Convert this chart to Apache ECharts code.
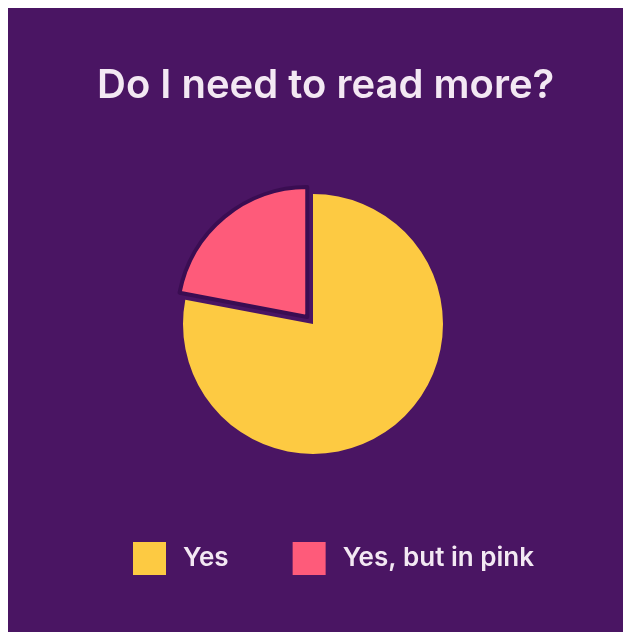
<!DOCTYPE html>
<html lang="en">
<head>
    <meta charset="UTF-8">
    <title>Do I need to read more?</title>
    <script src="https://cdn.jsdelivr.net/npm/echarts@6/dist/echarts.min.js"></script>
    <style>
        body { margin: 0; background: #ffffff; }
        #chart { position: absolute; left: 8px; top: 8px; width: 615px; height: 624px; }
    </style>
</head>
<body>
    <div id="chart"></div>
    <script>
        var categories = ['Yes', 'Yes, but in pink'];
        var values = [78, 22];
        var colors = ['#fdca42', '#fe5b7a'];

        var myChart = echarts.init(document.getElementById('chart'));
        var pieData = categories.map(function (name, i) {
            var item = { name: name, value: values[i], itemStyle: { color: colors[i] } };
            if (i === 1) {
                // exploded slice with dark outline
                item.selected = true;
                item.itemStyle.borderColor = '#3a0d52';
                item.itemStyle.borderWidth = 4;
            }
            return item;
        });

        var option = {
            backgroundColor: '#4a1563',
            animation: false,
            title: {
                text: 'Do I need to read more?',
                left: 89,
                top: 58,
                padding: 0,
                textStyle: {
                    color: '#f3e8f3',
                    fontFamily: 'Inter',
                    fontWeight: 600,
                    fontSize: 40
                }
            },
            legend: {
                left: 120,
                top: 529,
                icon: 'rect',
                itemWidth: 33,
                itemHeight: 33,
                itemGap: 64,
                selectedMode: false,
                itemStyle: { borderWidth: 0 },
                textStyle: {
                    color: '#f3e8f3',
                    fontFamily: 'Inter',
                    fontWeight: 600,
                    fontSize: 26,
                    padding: [0, 0, 0, 12]
                },
                data: categories
            },
            series: [{
                type: 'pie',
                center: [305, 316],
                radius: [0, 130],
                startAngle: 90,
                selectedMode: 'single',
                selectedOffset: 9,
                label: { show: false },
                labelLine: { show: false },
                emphasis: { disabled: true },
                data: pieData
            }]
        };
        myChart.setOption(option);
    </script>
</body>
</html>
